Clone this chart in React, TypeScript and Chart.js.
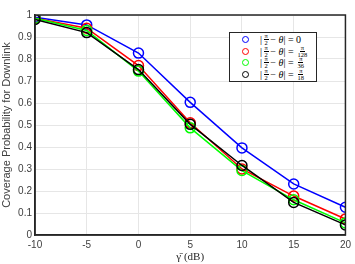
import React, { useEffect, useRef } from "react";
import { Chart, registerables } from "chart.js";

Chart.register(...registerables);

const xValues = [-10, -5, 0, 5, 10, 15, 20];
const blueValues = [0.99, 0.955, 0.827, 0.603, 0.396, 0.232, 0.126];
const redValues = [0.985, 0.94, 0.77, 0.51, 0.3, 0.177, 0.073];
const greenValues = [0.985, 0.93, 0.745, 0.487, 0.293, 0.16, 0.055];
const blackValues = [0.98, 0.92, 0.752, 0.503, 0.316, 0.148, 0.046];
const seriesColors = ["#0000ff", "#ff0000", "#00ff00", "#000000"];
const seriesDenoms = ["", "128", "36", "18"];
const xTitle = "γ̄ (dB)";
const yTitle = "Coverage Probability for Downlink";

const boxPlugin = {
  id: "boxPlugin",
  afterDraw(chart: any) {
    const { ctx, chartArea } = chart;
    ctx.save();
    ctx.strokeStyle = "#262626";
    ctx.lineWidth = 1.5;
    ctx.strokeRect(chartArea.left, chartArea.top, chartArea.right - chartArea.left, chartArea.bottom - chartArea.top);
    ctx.restore();
  },
};

const Frac = ({ n, d }: { n: string; d: string }) => (
  <span style={{ display: "inline-flex", flexDirection: "column", alignItems: "center", verticalAlign: "middle", fontSize: 6.5, lineHeight: "6px", margin: "0 1.5px" }}>
    <span style={{ borderBottom: "0.8px solid #000", padding: "0 1px" }}>{n}</span>
    <span>{d}</span>
  </span>
);

export default function App() {
  const ref = useRef<HTMLCanvasElement>(null);
  useEffect(() => {
    document.body.style.margin = "0";
    const all = [blueValues, redValues, greenValues, blackValues];
    const chart = new Chart(ref.current!, {
      type: "line",
      data: {
        labels: xValues,
        datasets: all.map((vals, i) => ({
          data: vals.map((v, j) => ({ x: xValues[j], y: v })),
          borderColor: seriesColors[i],
          backgroundColor: "rgba(0,0,0,0)",
          borderWidth: 1.5,
          pointRadius: 5,
          pointBorderWidth: 1.5,
          pointBackgroundColor: "rgba(0,0,0,0)",
          pointBorderColor: seriesColors[i],
          order: 4 - i,
        })),
      },
      options: {
        animation: false,
        responsive: false,
        layout: { padding: { top: 15, right: 8, left: 0, bottom: 0 } },
        plugins: { legend: { display: false }, tooltip: { enabled: false } },
        scales: {
          x: {
            type: "linear",
            min: -10,
            max: 20,
            ticks: { stepSize: 5, color: "#404040", font: { family: "Liberation Sans", size: 10 }, padding: 4, maxRotation: 0 },
            grid: { color: "#e6e6e6", drawTicks: false },
            border: { color: "#262626", width: 1.5 },
            title: { display: true, text: xTitle, color: "#262626", font: { family: "Liberation Serif", size: 11 }, padding: { top: 0, bottom: 0 } },
            afterFit: (s: any) => { s.height = 29; },
          },
          y: {
            min: 0,
            max: 1,
            ticks: { stepSize: 0.1, color: "#404040", font: { family: "Liberation Sans", size: 10 }, padding: 3, callback: (v: any) => String(Math.round(Number(v) * 10) / 10) },
            grid: { color: "#e6e6e6", drawTicks: false },
            border: { color: "#262626", width: 1.5 },
            title: { display: true, text: yTitle, color: "#404040", font: { family: "Liberation Sans", size: 11 }, padding: { top: 0, bottom: 2 } },
            afterFit: (s: any) => { s.width = 35; },
          },
        },
      },
      plugins: [boxPlugin],
    } as any);
    return () => chart.destroy();
  }, []);
  return (
    <div style={{ position: "relative", width: 355, height: 264 }}>
      <canvas ref={ref} width={355} height={264} />
      <div style={{ position: "absolute", left: 229, top: 32, width: 88, height: 50, border: "1.2px solid #262626", background: "#fff", fontFamily: "Liberation Serif", fontSize: 10, color: "#000", boxSizing: "border-box", paddingTop: 1 }}>
        {seriesColors.map((c, i) => (
          <div key={i} style={{ display: "flex", alignItems: "center", height: 11.5 }}>
            <span style={{ display: "inline-block", width: 7, height: 7, borderRadius: "50%", border: `1.5px solid ${c}`, marginLeft: 12, marginRight: 11, boxSizing: "border-box", flexShrink: 0 }} />
            <span style={{ whiteSpace: "nowrap", display: "inline-flex", alignItems: "center" }}>
              |<Frac n="π" d="2" />−&nbsp;<i>θ</i>|&nbsp;=&nbsp;{seriesDenoms[i] === "" ? "0" : <Frac n="π" d={seriesDenoms[i]} />}
            </span>
          </div>
        ))}
      </div>
    </div>
  );
}
